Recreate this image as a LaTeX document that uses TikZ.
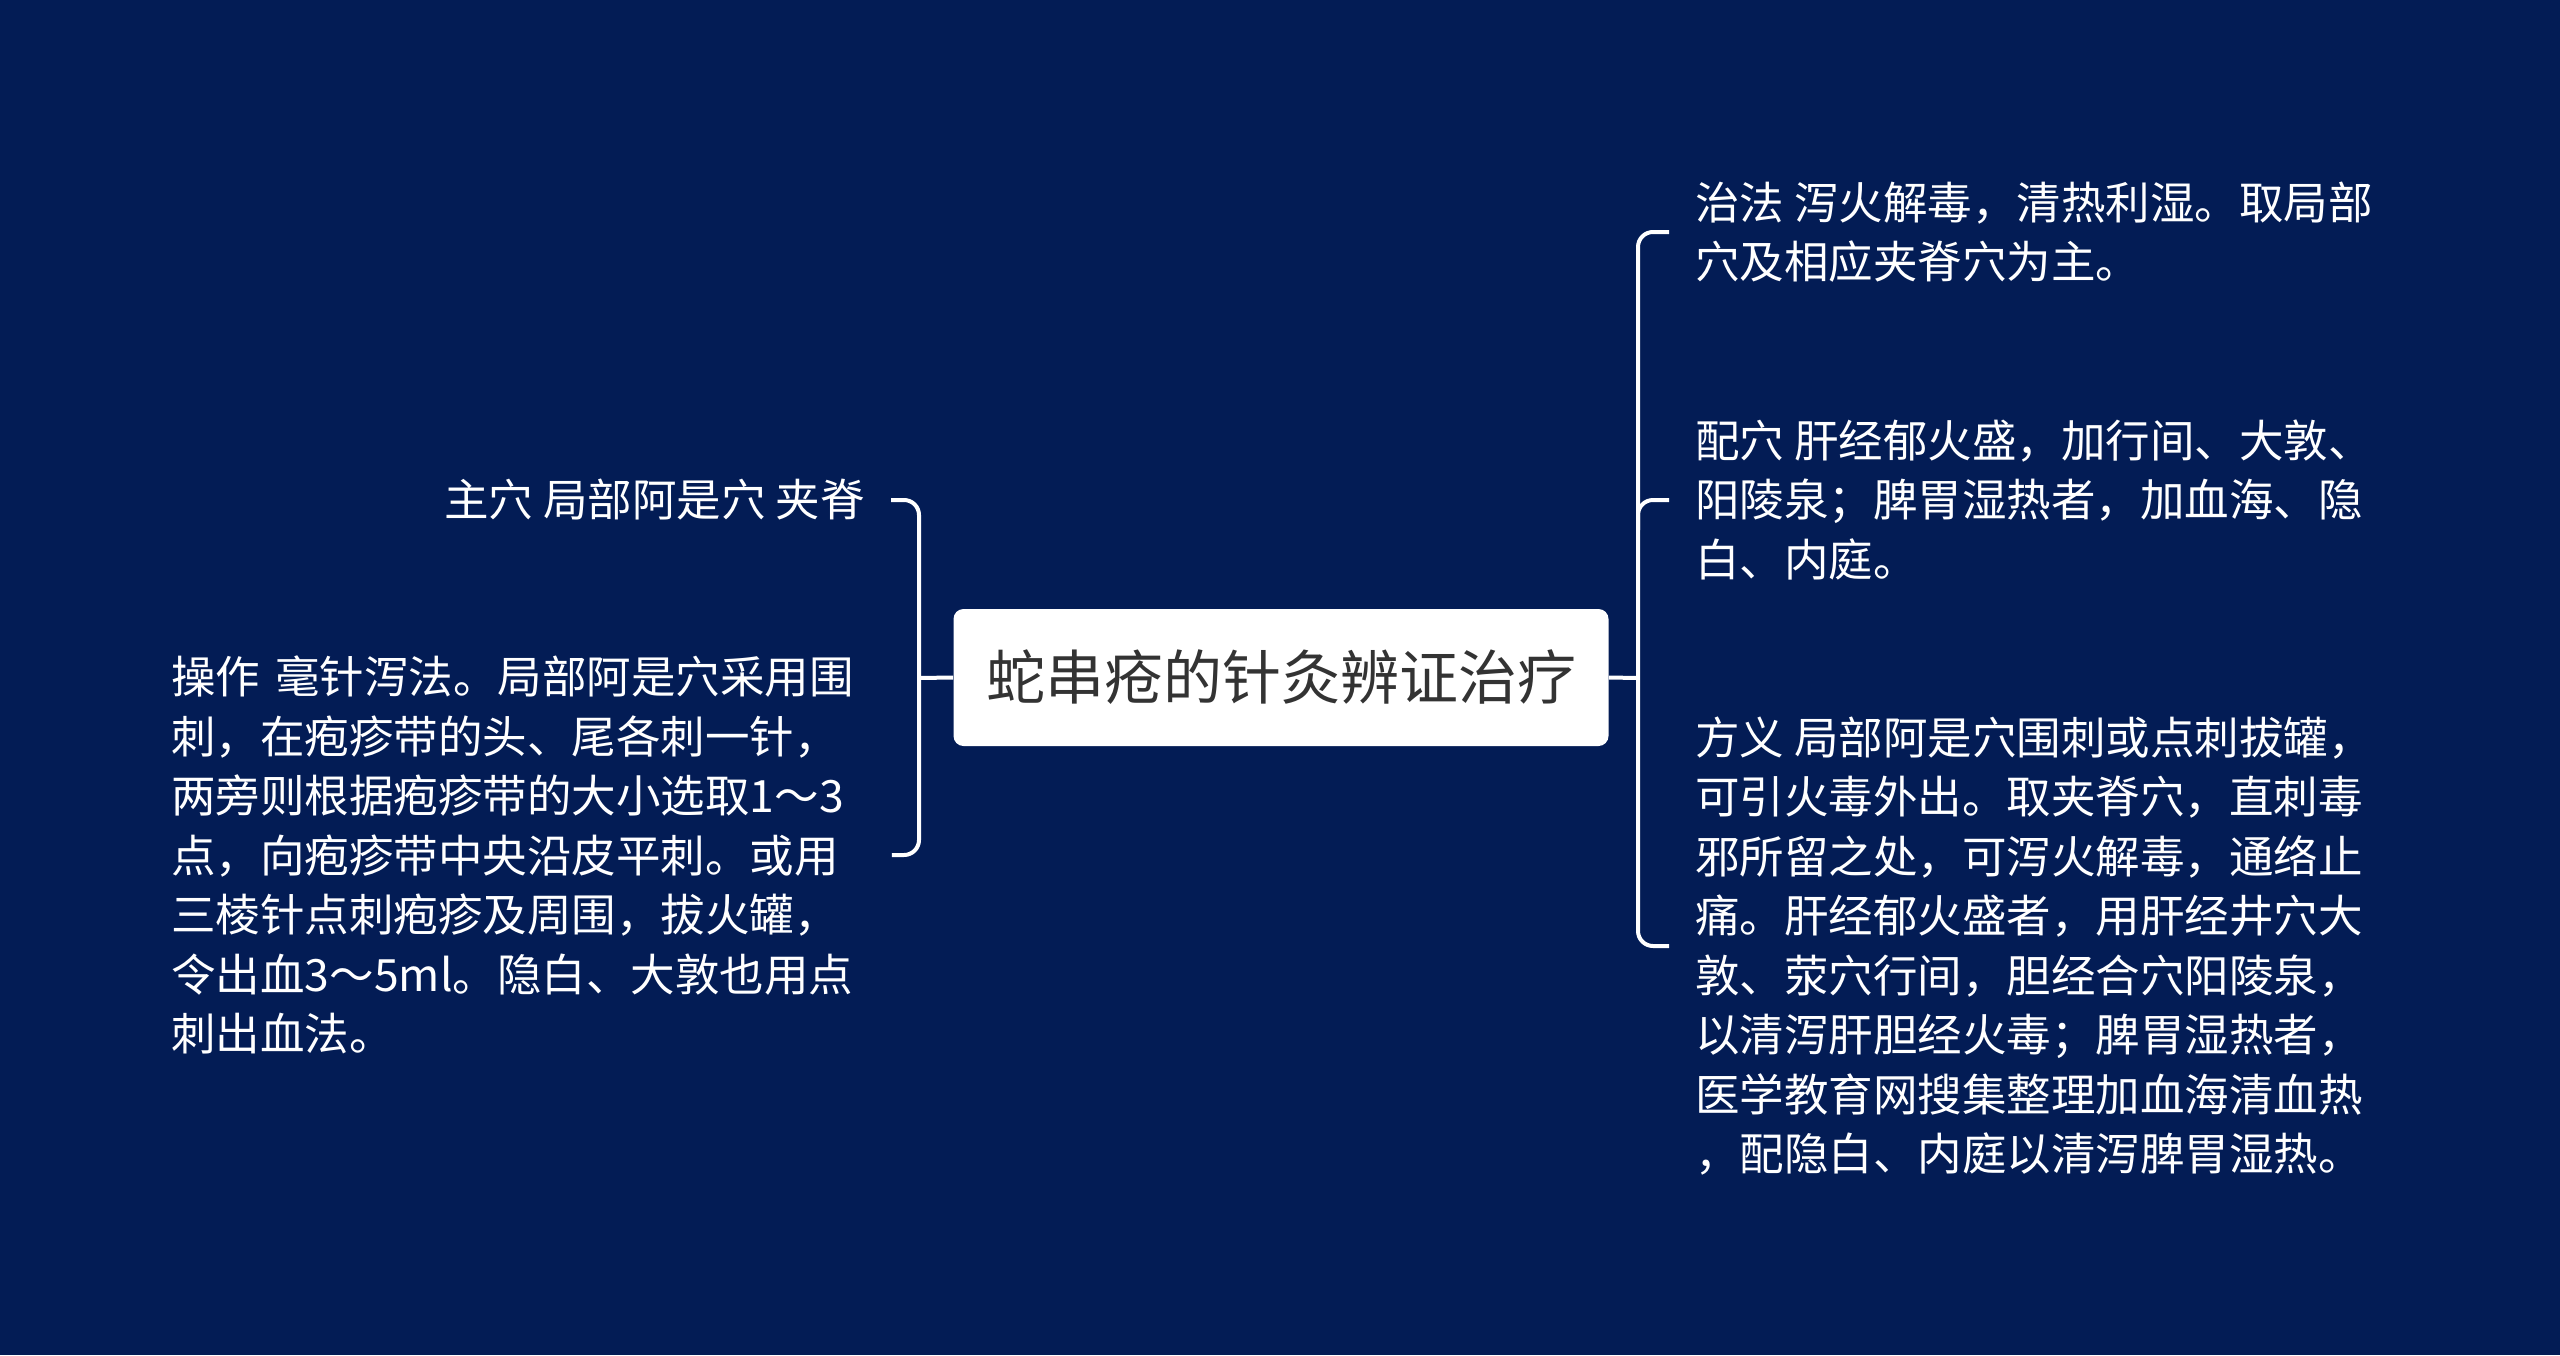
\documentclass[tikz,border=0pt]{standalone}
\usepackage{fontspec}
\usepackage{xcolor}
\usepackage{tikz}
\usetikzlibrary{calc}
\newfontfamily\cjkfont{Noto Sans CJK SC}
\definecolor{navybg}{RGB}{3,28,85}
\definecolor{roottext}{RGB}{51,51,51}

\tikzset{
  leaf/.style={text=white, font=\cjkfont\fontsize{22.25}{29.75}\selectfont,
    inner xsep=13pt, inner ysep=0pt, align=left},
  link/.style={draw=white, line width=2pt, rounded corners=7.5pt},
}

\begin{document}
\begin{tikzpicture}[x=0.5pt,y=-0.5pt]
\fill[navybg] (0,0) rectangle (2560,1355);
\useasboundingbox (0,0) rectangle (2560,1355);

\node[fill=white, rounded corners=5pt, minimum width=327.5pt, minimum height=68.5pt,
  text=roottext, font=\cjkfont\fontsize{29.5}{35}\selectfont] (root) at (1281,677.5)
{蛇串疮的针灸辨证治疗};

% left side
\node[leaf, anchor=east, align=right] (zhuxue) at (891,500) {主穴 局部阿是穴 夹脊};
\node[leaf, anchor=west, text width=347pt] (caozuo) at (145,855)
{操作 毫针泻法。局部阿是穴采用围\\刺，在疱疹带的头、尾各刺一针，\\两旁则根据疱疹带的大小选取1～3\\点，向疱疹带中央沿皮平刺。或用\\三棱针点刺疱疹及周围，拔火罐，\\令出血3～5ml。隐白、大敦也用点\\刺出血法。};

% right side
\node[leaf, anchor=west] (zhifa) at (1669,232)
{治法 泻火解毒，清热利湿。取局部\\穴及相应夹脊穴为主。};
\node[leaf, anchor=west] (peixue) at (1669,500)
{配穴 肝经郁火盛，加行间、大敦、\\阳陵泉；脾胃湿热者，加血海、隐\\白、内庭。};
\node[leaf, anchor=west] (fangyi) at (1669,946)
{方义 局部阿是穴围刺或点刺拔罐，\\可引火毒外出。取夹脊穴，直刺毒\\邪所留之处，可泻火解毒，通络止\\痛。肝经郁火盛者，用肝经井穴大\\敦、荥穴行间，胆经合穴阳陵泉，\\以清泻肝胆经火毒；脾胃湿热者，\\医学教育网搜集整理加血海清血热\\，配隐白、内庭以清泻脾胃湿热。};

\coordinate (lhub) at (919,678);
\coordinate (rhub) at (1638,678);

\draw[link] (root.west) -- (lhub);
\draw[link] (zhuxue.east) -- (zhuxue.east -| lhub) -- (caozuo.east -| lhub) -- (caozuo.east);

\draw[link] (root.east) -- (rhub);
\draw[link] (zhifa.west) -- (zhifa.west -| rhub) -- (fangyi.west -| rhub) -- (fangyi.west);
\draw[link] ($(peixue.west -| rhub)+(0,30)$) -- (peixue.west -| rhub) -- (peixue.west);
\end{tikzpicture}
\end{document}
